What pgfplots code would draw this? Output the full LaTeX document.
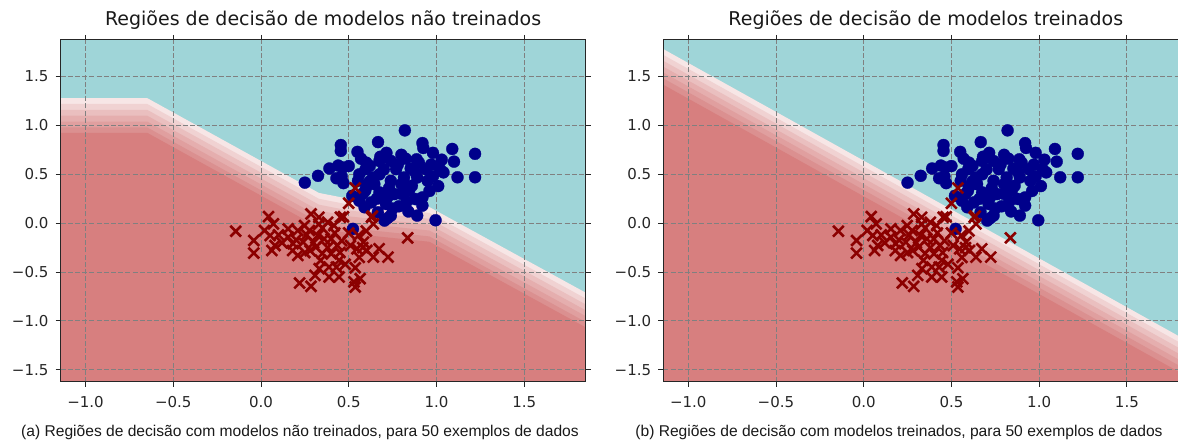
\documentclass[border=0pt]{standalone}
\usepackage{fontspec}
\setmainfont{DejaVu Sans}
\newfontfamily\capfont{Liberation Sans}
\usepackage{pgfplots}
\pgfplotsset{compat=1.18}
\usepackage{pgfplotstable}

% region colours: cyan class, then the red side from the boundary (light) down to full red
\definecolor{bgcyan}{HTML}{9FD5D8}
\definecolor{lvA}{HTML}{F7E6E6}
\definecolor{lvB}{HTML}{F0D2D2}
\definecolor{lvC}{HTML}{EABFBF}
\definecolor{lvD}{HTML}{E5AEAE}
\definecolor{lvE}{HTML}{E09F9F}
\definecolor{lvF}{HTML}{DB9090}
\definecolor{lvred}{HTML}{D77F7F}
\definecolor{ptblue}{HTML}{00008B}
\definecolor{ptred}{HTML}{8B0000}

% class 1 samples (circles)
\pgfplotstableread{
x y
0.82 0.95
0.455 0.80
0.455 0.74
0.55 0.73
0.667 0.83
0.715 0.72
0.92 0.82
0.925 0.77
0.98 0.72
1.09 0.76
1.22 0.71
1.10 0.63
1.03 0.65
1.22 0.47
1.12 0.47
1.01 0.38
0.25 0.415
0.325 0.485
0.39 0.56
0.44 0.59
0.50 0.585
0.43 0.46
0.47 0.41
0.466 0.57
0.553 0.434
0.596 0.553
0.62 0.586
0.675 0.637
0.74 0.637
0.825 0.66
0.887 0.654
0.77 0.553
0.853 0.56
0.94 0.553
1.02 0.553
0.675 0.50
0.646 0.40
0.74 0.434
0.815 0.468
0.89 0.468
0.95 0.434
0.594 0.332
0.675 0.315
0.76 0.298
0.844 0.332
0.92 0.264
0.628 0.213
0.712 0.197
0.786 0.173
0.88 0.247
0.59 0.163
0.666 0.112
0.74 0.078
0.704 0.027
0.89 0.078
0.995 0.03
0.524 -0.058
0.58 0.30
0.80 0.40
0.86 0.383
0.72 0.264
0.64 0.468
0.46 0.48
0.60 0.62
0.78 0.60
0.97 0.60
0.70 0.55
0.56 0.50
0.62 0.43
0.88 0.52
0.73 0.36
0.96 0.33
0.83 0.22
0.66 0.25
0.75 0.15
0.56 0.23
0.98 0.48
1.04 0.52
0.84 0.12
0.72 0.05
0.80 0.70
0.68 0.68
0.57 0.66
0.90 0.62
0.80 0.30
0.92 0.18
0.60 0.37
0.52 0.28
}\classone

% class 0 samples (crosses)
\pgfplotstableread{
x y
0.537 0.36
0.50 0.204
-0.144 -0.082
0.043 0.068
0.071 -0.007
0.02 -0.075
-0.041 -0.177
-0.041 -0.306
0.062 -0.279
0.08 -0.228
0.052 -0.126
0.155 -0.143
0.183 -0.21
0.21 -0.33
0.24 -0.194
0.285 0.095
0.33 0.061
0.38 0.01
0.453 0.061
0.416 -0.024
0.276 -0.075
0.323 -0.126
0.36 -0.16
0.313 -0.245
0.34 -0.38
0.40 -0.313
0.435 -0.228
0.445 -0.38
0.388 -0.449
0.332 -0.466
0.308 -0.534
0.22 -0.612
0.285 -0.646
0.388 -0.55
0.445 -0.55
0.537 -0.456
0.565 -0.568
0.53 -0.60
0.537 -0.653
0.63 0.061
0.64 -0.007
0.556 -0.126
0.584 -0.194
0.547 -0.262
0.603 -0.279
0.673 -0.262
0.64 -0.347
0.724 -0.347
0.836 -0.15
0.51 -0.228
0.21 -0.075
0.248 -0.024
0.155 -0.058
0.47 0.066
0.635 0.073
0.20 -0.17
0.26 -0.12
0.30 -0.20
0.35 -0.05
0.42 -0.10
0.45 -0.30
0.38 -0.25
0.28 -0.28
0.12 -0.20
0.10 -0.12
0.46 -0.18
0.50 -0.10
0.56 -0.35
0.60 -0.08
0.43 -0.45
0.35 -0.31
0.25 -0.30
0.18 -0.28
0.40 -0.16
0.33 -0.01
0.48 -0.42
0.58 -0.25
}\classzero

% decision boundary of the untrained models (upper edge of the red side)
\pgfplotstableread{
x y
-1.3 1.28
-0.648 1.28
0.33 0.31
0.50 0.25
0.96 0.165
2.0 -0.858
2.0 -4
-1.3 -4
}\bnduntrained

% decision boundary of the trained models
\pgfplotstableread{
x y
-1.3 1.94
2.0 -1.36
2.0 -4
-1.3 -4
}\bndtrained

\pgfplotsset{
  regions/.style={
    scale only axis, width=525pt, height=342pt,
    xmin=-1.142, xmax=1.85, ymin=-1.625, ymax=1.875,
    axis background/.style={fill=bgcyan},
    xtick={-1,-0.5,0,0.5,1,1.5},
    xticklabels={−1.0,−0.5,0.0,0.5,1.0,1.5},
    ytick={-1.5,-1,-0.5,0,0.5,1,1.5},
    yticklabels={−1.5,−1.0,−0.5,0.0,0.5,1.0,1.5},
    tick align=outside, major tick length=5pt,
    tick style={black!85, line width=0.9pt},
    grid=major,
    grid style={gray, line width=0.9pt, dash pattern=on 5pt off 2.2pt},
    axis on top,
    axis line style={black!85, line width=1pt},
    ticklabel style={font=\fontsize{15}{18}\selectfont, text=black!85, inner sep=0pt},
    xticklabel style={anchor=base, yshift=-21pt},
    yticklabel style={anchor=east, xshift=-7pt},
    title style={at={(0.5,1)}, anchor=base, yshift=8.3pt,
      font=\fontsize{19}{23}\selectfont, text=black!90},
  },
  band/.style={draw=none, fill=#1, forget plot},
  blues/.style={only marks, mark=*, mark size=6pt,
    mark options={fill=ptblue, draw=ptblue, line width=0.3pt}},
  reds/.style={only marks, mark=x, mark size=7.6pt,
    mark options={draw=ptred, line width=2.6pt}},
}

\begin{document}
\begin{tikzpicture}
\begin{axis}[regions, at={(60.6pt,59pt)}, anchor=south west,
  title={Regiões de decisão de modelos não treinados}]
  \addplot[band=lvA] table[y expr=\thisrow{y}] {\bnduntrained};
  \addplot[band=lvB] table[y expr=\thisrow{y}-0.06] {\bnduntrained};
  \addplot[band=lvC] table[y expr=\thisrow{y}-0.12] {\bnduntrained};
  \addplot[band=lvD] table[y expr=\thisrow{y}-0.18] {\bnduntrained};
  \addplot[band=lvE] table[y expr=\thisrow{y}-0.24] {\bnduntrained};
  \addplot[band=lvF] table[y expr=\thisrow{y}-0.30] {\bnduntrained};
  \addplot[band=lvred] table[y expr=\thisrow{y}-0.355] {\bnduntrained};
  \addplot[blues] table {\classone};
  \addplot[reds] table {\classzero};
\end{axis}

\begin{axis}[regions, at={(663.3pt,59pt)}, anchor=south west,
  title={Regiões de decisão de modelos treinados}]
  \addplot[band=lvA] table[y expr=\thisrow{y}] {\bndtrained};
  \addplot[band=lvB] table[y expr=\thisrow{y}-0.06] {\bndtrained};
  \addplot[band=lvC] table[y expr=\thisrow{y}-0.12] {\bndtrained};
  \addplot[band=lvD] table[y expr=\thisrow{y}-0.18] {\bndtrained};
  \addplot[band=lvE] table[y expr=\thisrow{y}-0.24] {\bndtrained};
  \addplot[band=lvF] table[y expr=\thisrow{y}-0.30] {\bndtrained};
  \addplot[band=lvred] table[y expr=\thisrow{y}-0.365] {\bndtrained};
  \addplot[blues] table {\classone};
  \addplot[reds] table {\classzero};
\end{axis}

\node[anchor=base, font=\capfont\fontsize{15.6}{18}\selectfont, text=black!90]
  at (300pt,4pt) {(a) Regiões de decisão com modelos não treinados, para 50 exemplos de dados};
\node[anchor=base, font=\capfont\fontsize{15.6}{18}\selectfont, text=black!90]
  at (899pt,4pt) {(b) Regiões de decisão com modelos treinados, para 50 exemplos de dados};

\pgfresetboundingbox
\path[use as bounding box] (0pt,0pt) rectangle (1178pt,441pt);
\end{tikzpicture}
\end{document}
